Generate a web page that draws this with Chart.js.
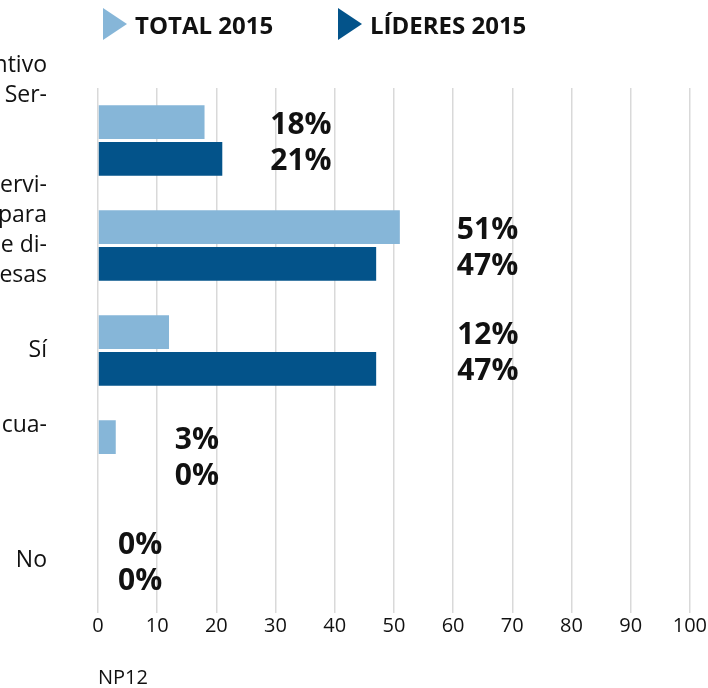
<!DOCTYPE html>
<html lang="es">
<head>
<meta charset="utf-8">
<title>NP12</title>
<script src="https://cdn.jsdelivr.net/npm/chart.js@4.4.1/dist/chart.umd.min.js"></script>
<style>
  html, body { margin: 0; padding: 0; background: #fff; }
  #wrap { position: relative; width: 708px; height: 688px; font-family: "Open Sans", sans-serif; }
  #chart { position: absolute; left: 0; top: 0; }
  .legend-item {
    position: absolute; top: 8px; height: 32px;
    display: flex; align-items: center;
    font-size: 24px; font-weight: 700; color: #111; white-space: nowrap;
  }
  .legend-item .tri {
    width: 0; height: 0; margin-right: 8px;
    border-top: 16px solid transparent;
    border-bottom: 16px solid transparent;
    border-left: 24px solid currentColor;
  }
</style>
</head>
<body>
<div id="wrap">
  <canvas id="chart" width="708" height="688"></canvas>
  <div class="legend-item" style="left:103px"><span class="tri" style="color:#86b6d8"></span>TOTAL 2015</div>
  <div class="legend-item" style="left:338px"><span class="tri" style="color:#03538a"></span>LÍDERES 2015</div>
</div>

<script>
// Category labels (wrapped; blank lines push the text up inside its row)
const categories = [
    ['ntivo', 'Ser-', '', '', '', ''],
    ['ervi-', 'para', 'e di-', 'resas', ''],
    'Sí',
    ['cua-', '', ''],
    'No'
];

// Percentages per series
const total2015 = [18, 51, 12, 3, 0];
const lideres2015 = [21, 47, 47, 0, 0];

// Axis ticks
const xTicks = [0, 10, 20, 30, 40, 50, 60, 70, 80, 90, 100];

const LIGHT = '#86b6d8';
const DARK = '#03538a';

// Writes the "NN%" values to the right of each pair of bars
const valueLabels = {
    id: 'valueLabels',
    afterDatasetsDraw(chart, args, opts) {
        const ctx = chart.ctx;
        const xScale = chart.scales.x;
        ctx.save();
        ctx.font = 'bold 30px "Open Sans"';
        ctx.fillStyle = '#111';
        ctx.textAlign = 'left';
        ctx.textBaseline = 'middle';
        categories.forEach((_, i) => {
            const longest = Math.max(...chart.data.datasets.map(ds => ds.data[i]));
            const left = xScale.getPixelForValue(longest) + opts.gap + (opts.nudge[i] || 0);
            chart.data.datasets.forEach((ds, d) => {
                const bar = chart.getDatasetMeta(d).data[i];
                ctx.fillText(ds.data[i] + '%', left, bar.y + 3);
            });
        });
        ctx.restore();
    }
};

new Chart(document.getElementById('chart'), {
    type: 'bar',
    data: {
        labels: categories,
        datasets: [
            {
                label: 'TOTAL 2015',
                data: total2015,
                backgroundColor: LIGHT,
                categoryPercentage: 0.7,
                barPercentage: 0.925
            },
            {
                label: 'LÍDERES 2015',
                data: lideres2015,
                backgroundColor: DARK,
                categoryPercentage: 0.7,
                barPercentage: 0.925
            }
        ]
    },
    options: {
        indexAxis: 'y',
        responsive: false,
        animation: false,
        layout: {
            padding: { top: 88, right: 14, bottom: 0, left: 0 }
        },
        plugins: {
            legend: { display: false },
            tooltip: { enabled: false },
            valueLabels: {
                gap: 52,
                nudge: [-4, 5, 29, 7, -32]
            }
        },
        scales: {
            x: {
                min: 0,
                max: 100,
                afterBuildTicks: function(scale) {
                    scale.ticks = xTicks.map(v => ({ value: v }));
                },
                grid: {
                    color: '#d9d9d9',
                    lineWidth: 1.5,
                    drawTicks: false
                },
                border: { display: false },
                ticks: {
                    padding: 1,
                    color: '#111',
                    font: { family: '"Open Sans"', size: 20 }
                },
                title: {
                    display: true,
                    text: 'NP12',
                    align: 'start',
                    color: '#111',
                    font: { family: '"Open Sans"', size: 20, lineHeight: 1 },
                    padding: { top: 29, bottom: 0 }
                }
            },
            y: {
                afterFit: function(scale) {
                    // fixed gutter; long labels simply run off the left edge
                    scale.width = 98;
                    scale.paddingTop = 0;
                    scale.paddingBottom = 0;
                },
                grid: { display: false, drawTicks: false },
                border: { display: false },
                ticks: {
                    autoSkip: false,
                    padding: 51,
                    color: '#111',
                    font: { family: '"Open Sans"', size: 23, lineHeight: '30px' }
                }
            }
        }
    },
    plugins: [valueLabels]
});
</script>
</body>
</html>
